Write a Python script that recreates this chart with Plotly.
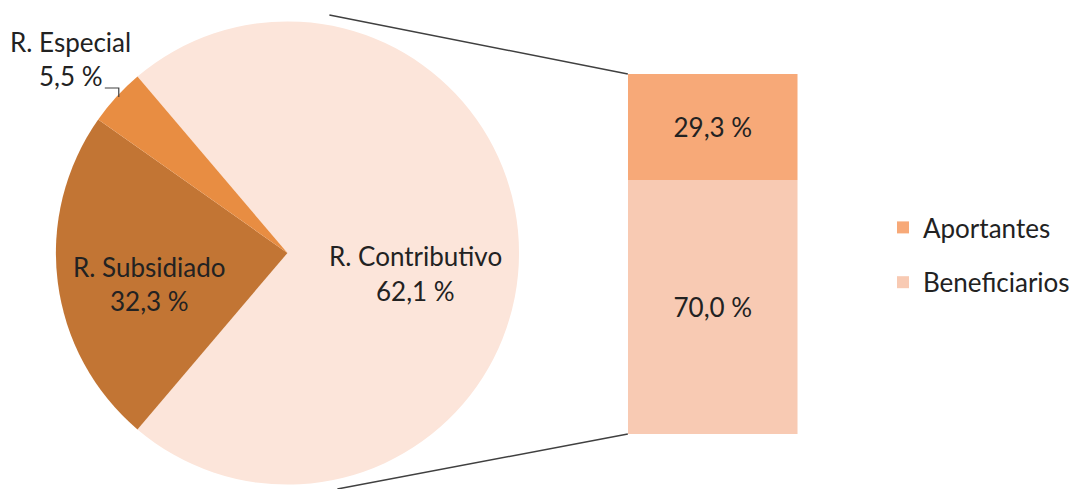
import plotly.graph_objects as go

# ---------------- data ----------------
pie_labels = ["R. Contributivo", "R. Subsidiado", "R. Especial"]
pie_shares = [62.1, 32.3, 5.5]            # shares printed on the pie
bar_labels = ["Beneficiarios", "Aportantes"]
bar_shares = [70.0, 29.3]                 # breakdown of R. Contributivo

# In a pie-of-bar the "other" slice is the sum of the bar items
pie_values = [sum(bar_shares), pie_shares[1], pie_shares[2]]


def fmt(v):
    return f"{v:.1f}".replace(".", ",") + " %"


# ---------------- style / geometry ----------------
W, H = 1075, 489
FONT = "Lato, 'Open Sans', sans-serif"
TXT = "#222222"
FS = 26
pie_colors = ["#FCE5DA", "#C27534", "#E88D42"]
bar_colors = ["#F8CAB3", "#F7A978"]

cx, cy, R = 288, 253, 232          # pie centre / radius in px (from top-left)
bx0, bx1, by0, by1 = 629, 799, 74, 434   # bar box in px


def px(x):
    return x / W


def py(y):
    return 1 - y / H


frac_other = pie_values[0] / sum(pie_values)
rotation = 90 - frac_other * 180   # centre the "other" slice at 3 o'clock

fig = go.Figure()

fig.add_trace(go.Pie(
    labels=pie_labels,
    values=pie_values,
    sort=False,
    direction="clockwise",
    rotation=rotation,
    marker=dict(colors=pie_colors, line=dict(width=0)),
    textinfo="none",
    hoverinfo="label",
    showlegend=False,
    domain=dict(x=[px(cx - R), px(cx + R)], y=[py(cy + R), py(cy - R)]),
))

for i, (lab, val) in enumerate(zip(bar_labels, bar_shares)):
    fig.add_trace(go.Bar(
        x=[0], y=[val], name=lab, width=1,
        marker=dict(color=bar_colors[i], line=dict(width=0)),
        text=[fmt(val)], textposition="inside", insidetextanchor="middle",
        textfont=dict(family=FONT, size=FS, color=TXT),
        legendrank=2 - i, legendgroup=lab,
        xaxis="x", yaxis="y",
    ))

# pie labels
annotations = []
label_pos = {
    "R. Contributivo": (416, 256, 291),
    "R. Subsidiado": (150, 267, 301),
}
for lab, share in zip(pie_labels, pie_shares):
    if lab in label_pos:
        x, y1, y2 = label_pos[lab]
        annotations.append(dict(x=px(x), y=py(y1), xref="paper", yref="paper", text=lab,
                                showarrow=False, xanchor="center", yanchor="middle",
                                font=dict(family=FONT, size=FS, color=TXT)))
        annotations.append(dict(x=px(x), y=py(y2), xref="paper", yref="paper", text=fmt(share),
                                showarrow=False, xanchor="center", yanchor="middle",
                                font=dict(family=FONT, size=FS, color=TXT)))
# outside label for the small slice
annotations.append(dict(x=px(71), y=py(42), xref="paper", yref="paper", text=pie_labels[2],
                        showarrow=False, xanchor="center", yanchor="middle",
                        font=dict(family=FONT, size=FS, color=TXT)))
annotations.append(dict(x=px(71), y=py(76), xref="paper", yref="paper", text=fmt(pie_shares[2]),
                        showarrow=False, xanchor="center", yanchor="middle",
                        font=dict(family=FONT, size=FS, color=TXT)))

shapes = [
    # leader line for R. Especial
    dict(type="path", xref="paper", yref="paper",
         path=f"M {px(105)},{py(88)} L {px(119)},{py(88)} L {px(119)},{py(97)}",
         line=dict(color="#404040", width=1.2)),
    # connectors pie -> bar
    dict(type="line", xref="paper", yref="paper", x0=px(330), y0=py(15), x1=px(bx0), y1=py(by0),
         line=dict(color="#404040", width=1.5)),
    dict(type="line", xref="paper", yref="paper", x0=px(338), y0=py(489), x1=px(bx0), y1=py(by1),
         line=dict(color="#404040", width=1.5)),
]

fig.update_layout(
    width=W, height=H,
    margin=dict(l=0, r=0, t=0, b=0),
    paper_bgcolor="white", plot_bgcolor="white",
    barmode="stack", bargap=0,
    xaxis=dict(domain=[px(bx0), px(bx1)], range=[-0.5, 0.5], visible=False, fixedrange=True),
    yaxis=dict(domain=[py(by1), py(by0)], range=[0, sum(bar_shares)], visible=False, fixedrange=True),
    showlegend=True,
    legend=dict(x=px(885), y=py(204), xanchor="left", yanchor="top",
                font=dict(family=FONT, size=FS, color=TXT),
                traceorder="grouped", tracegroupgap=18, bgcolor="rgba(0,0,0,0)"),
    annotations=annotations,
    shapes=shapes,
    font=dict(family=FONT, color=TXT),
)

fig.write_html("out.html", config={"displayModeBar": False},
               post_script="document.body.style.margin='0';document.body.style.overflow='hidden';")
